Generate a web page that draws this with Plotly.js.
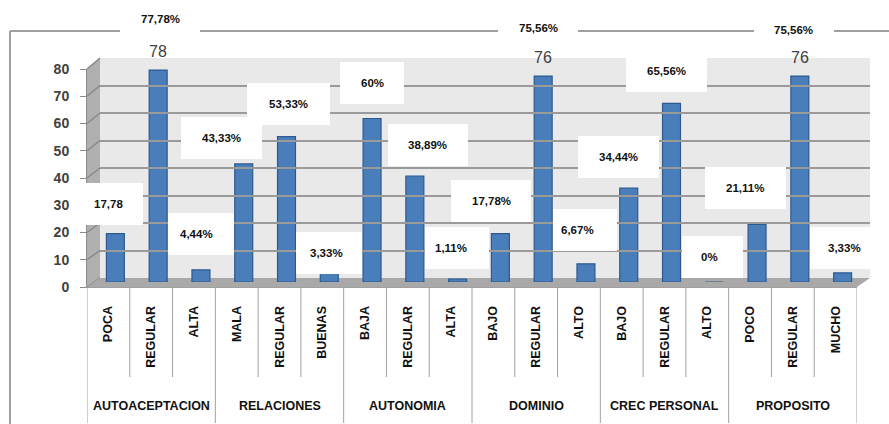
<!DOCTYPE html>
<html>
<head>
<meta charset="utf-8">
<script src="https://cdn.plot.ly/plotly-3.0.1.min.js"></script>
<style>
html,body{margin:0;padding:0;background:#fff;}
#chart{width:889px;height:424px;}
</style>
</head>
<body>
<div id="chart"></div>
<script>
// ---- data ----
const groupNames = ["AUTOACEPTACION","RELACIONES","AUTONOMIA","DOMINIO","CREC PERSONAL","PROPOSITO"];
const groups = ["AUTOACEPTACION","AUTOACEPTACION","AUTOACEPTACION",
                "RELACIONES","RELACIONES","RELACIONES",
                "AUTONOMIA","AUTONOMIA","AUTONOMIA",
                "DOMINIO","DOMINIO","DOMINIO",
                "CREC PERSONAL","CREC PERSONAL","CREC PERSONAL",
                "PROPOSITO","PROPOSITO","PROPOSITO"];
const categories = ["POCA","REGULAR","ALTA",
                    "MALA","REGULAR","BUENAS",
                    "BAJA","REGULAR","ALTA",
                    "BAJO","REGULAR","ALTO",
                    "BAJO","REGULAR","ALTO",
                    "POCO","REGULAR","MUCHO"];
const values = [17.78, 77.78, 4.44,
                43.33, 53.33, 3.33,
                60, 38.89, 1.11,
                17.78, 75.56, 6.67,
                34.44, 65.56, 0,
                21.11, 75.56, 3.33];
const pctLabels = ["17,78","77,78%","4,44%",
                   "43,33%","53,33%","3,33%",
                   "60%","38,89%","1,11%",
                   "17,78%","75,56%","6,67%",
                   "34,44%","65,56%","0%",
                   "21,11%","75,56%","3,33%"];
const yTicks = [0,10,20,30,40,50,60,70,80];

// ---- label placement (pixels relative to bar top) and box widths ----
const labelNudge = [[-7,-30],[2,-51],[-4,-36],[-22,-26],[2,-33],[-3,-20],
                    [0,-35],[13,-31],[-7,-31],[-9,-33],[-5,-48],[-8,-34],
                    [-10,-31],[-5,-32],[-5,-25],[-12,-36],[-6,-46],[2,-25]];
const boxW = [70,80,75,81,83,75,64,80,77,80,80,79,81,81,67,81,80,80];
const BOX_H = 42, VAL_SHIFT = 19, BAR_W = 0.42;

// ---- geometry (pixels) ----
const W = 889, H = 424;
const front = {x0:87, x1:857, yb:287, yt:69};
const mid   = {x0:94, x1:864, yb:282, yt:64};
const back  = {x0:100, x1:870, yb:278, yt:58};
const px = v => v / W;
const py = v => 1 - v / H;
const idx = values.map((_, i) => i);
const FONT = 'Liberation Sans, Arial, sans-serif';
const catPx = (mid.x1 - mid.x0) / categories.length;
const unitPx = (mid.yb - mid.yt) / 80;
const barHalfPx = BAR_W * catPx / 2;

const traces = [
  { // bars
    type: 'bar', x: idx, y: values, xaxis: 'x', yaxis: 'y',
    width: BAR_W,
    marker: {color: '#4a7ebb', line: {color: '#2c5a8f', width: 1.2}},
    hoverinfo: 'skip', showlegend: false
  },
  { // front axis carrier
    type: 'scatter', mode: 'markers', x: idx, y: values,
    xaxis: 'x2', yaxis: 'y2', marker: {opacity: 0}, hoverinfo: 'skip', showlegend: false
  },
  { // back wall carrier
    type: 'scatter', mode: 'markers', x: idx, y: values,
    xaxis: 'x3', yaxis: 'y3', marker: {opacity: 0}, hoverinfo: 'skip', showlegend: false
  }
];

const shapes = [];
// back wall
shapes.push({type:'rect', xref:'x3 domain', yref:'y3 domain', x0:0, x1:1, y0:0, y1:1,
  fillcolor:'#e9e9e9', line:{width:0}, layer:'below'});
// left wall
shapes.push({type:'path', xref:'paper', yref:'paper', layer:'below',
  path:`M ${px(front.x0)},${py(front.yb)} L ${px(front.x0)},${py(front.yt)} L ${px(back.x0)},${py(back.yt)} L ${px(back.x0)},${py(back.yb)} Z`,
  fillcolor:'#b0b0b0', line:{width:0}});
// left-wall grid stubs
yTicks.forEach(t => {
  const yf = front.yb - (front.yb - front.yt) * t / 80;
  const yb = back.yb - (back.yb - back.yt) * t / 80;
  shapes.push({type:'line', xref:'paper', yref:'paper', layer:'below',
    x0:px(front.x0), y0:py(yf), x1:px(back.x0), y1:py(yb), line:{color:'#888888', width:1.5}});
});
// floor
shapes.push({type:'path', xref:'paper', yref:'paper', layer:'below',
  path:`M ${px(front.x0)},${py(front.yb)} L ${px(front.x1)},${py(front.yb)} L ${px(back.x1)},${py(back.yb)} L ${px(back.x0)},${py(back.yb)} Z`,
  fillcolor:'#a9a9a9', line:{width:0}});
// category box lines below the axis
for (let i = 0; i <= categories.length; i++) {
  const isGroupEdge = (i === 0 || i === categories.length || groups[i] !== groups[i - 1]);
  shapes.push({type:'line', xref:'x2', yref:'paper', x0:i - 0.5, x1:i - 0.5,
    y0:py(front.yb), y1:py(isGroupEdge ? 423 : 377),
    line:{color:'#a0a0a0', width:1}});
}
// outer chart border
shapes.push({type:'line', xref:'paper', yref:'paper', x0:px(10), x1:1, y0:py(31), y1:py(31),
  line:{color:'#a0a0a0', width:2}});
shapes.push({type:'line', xref:'paper', yref:'paper', x0:px(10), x1:px(10), y0:py(31), y1:0,
  line:{color:'#a0a0a0', width:2}});

const annotations = [];
// value labels: only those not hidden behind their percentage box
values.forEach((v, i) => {
  const boxBottom = -labelNudge[i][1] - BOX_H / 2;
  if (boxBottom < VAL_SHIFT) return;
  annotations.push({x: i, y: v, xref: 'x', yref: 'y', yshift: VAL_SHIFT,
    text: v.toFixed(0), showarrow: false,
    font: {family: FONT, size: 16, color: '#404040'},
    xanchor: 'center', yanchor: 'middle'});
});
// white label boxes, trimmed so that neighbouring bars stay in front of them
values.forEach((v, i) => {
  const tx = labelNudge[i][0], ty = -labelNudge[i][1];
  let left = tx - boxW[i] / 2, right = tx + boxW[i] / 2;
  const bottom = ty - BOX_H / 2;
  [i - 1, i + 1].forEach(j => {
    if (j < 0 || j >= values.length) return;
    const topJ = (values[j] - values[i]) * unitPx;
    if (topJ <= bottom) return;
    const cj = (j - i) * catPx;
    if (j < i) left = Math.max(left, cj + barHalfPx + 1);
    else right = Math.min(right, cj - barHalfPx - 1);
  });
  annotations.push({x: i, y: v, xref: 'x', yref: 'y',
    xshift: (left + right) / 2, yshift: ty,
    text: '\u00a0', showarrow: false, width: right - left, height: BOX_H,
    bgcolor: '#ffffff', borderpad: 0, borderwidth: 0,
    font: {family: FONT, size: 11}, xanchor: 'center', yanchor: 'middle'});
});
// percentage texts
values.forEach((v, i) => annotations.push({
  x: i, y: v, xref: 'x', yref: 'y',
  xshift: labelNudge[i][0], yshift: -labelNudge[i][1],
  text: '<b>' + pctLabels[i] + '</b>', showarrow: false,
  font: {family: FONT, size: 11.5, color: '#111111'},
  xanchor: 'center', yanchor: 'middle'
}));
// group labels
groupNames.forEach(g => {
  const members = idx.filter(i => groups[i] === g);
  const c = members.reduce((a, b) => a + b, 0) / members.length;
  annotations.push({
    x: c, y: py(406), xref: 'x2', yref: 'paper', text: g, showarrow: false,
    font: {family: FONT, size: 12.5, color: '#111111', weight: 'bold'},
    xanchor: 'center', yanchor: 'middle'
  });
});

const layout = {
  width: W, height: H,
  margin: {l: 0, r: 0, t: 0, b: 0},
  paper_bgcolor: '#ffffff', plot_bgcolor: 'rgba(0,0,0,0)',
  showlegend: false,
  xaxis: {domain: [px(mid.x0), px(mid.x1)], range: [-0.5, 17.5], anchor: 'y',
    visible: false, fixedrange: true},
  yaxis: {domain: [py(mid.yb), py(mid.yt)], range: [0, 80], anchor: 'x',
    visible: false, fixedrange: true},
  xaxis2: {domain: [px(front.x0), px(front.x1)], anchor: 'y2',
    range: [-0.5, 17.5], showgrid: false, zeroline: false,
    showline: true, linecolor: '#a0a0a0', linewidth: 1,
    tickvals: idx, ticktext: categories, ticks: '', tickangle: -90,
    ticklabelstandoff: 13,
    tickfont: {family: FONT, size: 12.5, color: '#111111', weight: 'bold'}},
  yaxis2: {domain: [py(front.yb), py(front.yt)], range: [0, 80], anchor: 'x2',
    showgrid: false, zeroline: false, showline: true, linecolor: '#8c8c8c', linewidth: 1,
    ticks: 'outside', ticklen: 6, tickcolor: '#8c8c8c', tickvals: yTicks,
    ticklabelstandoff: 8,
    tickfont: {family: FONT, size: 14, color: '#404040', weight: 'bold'}},
  xaxis3: {domain: [px(back.x0), px(back.x1)], range: [-0.5, 17.5], anchor: 'y3',
    visible: false},
  yaxis3: {domain: [py(back.yb), py(back.yt)], range: [0, 80], anchor: 'x3',
    showgrid: true, gridcolor: '#9a9a9a', gridwidth: 2, tickvals: yTicks.slice(1),
    showticklabels: false, zeroline: false, showline: false, ticks: ''},
  shapes: shapes,
  annotations: annotations
};

Plotly.newPlot('chart', traces, layout, {displayModeBar: false, staticPlot: true});
</script>
</body>
</html>
